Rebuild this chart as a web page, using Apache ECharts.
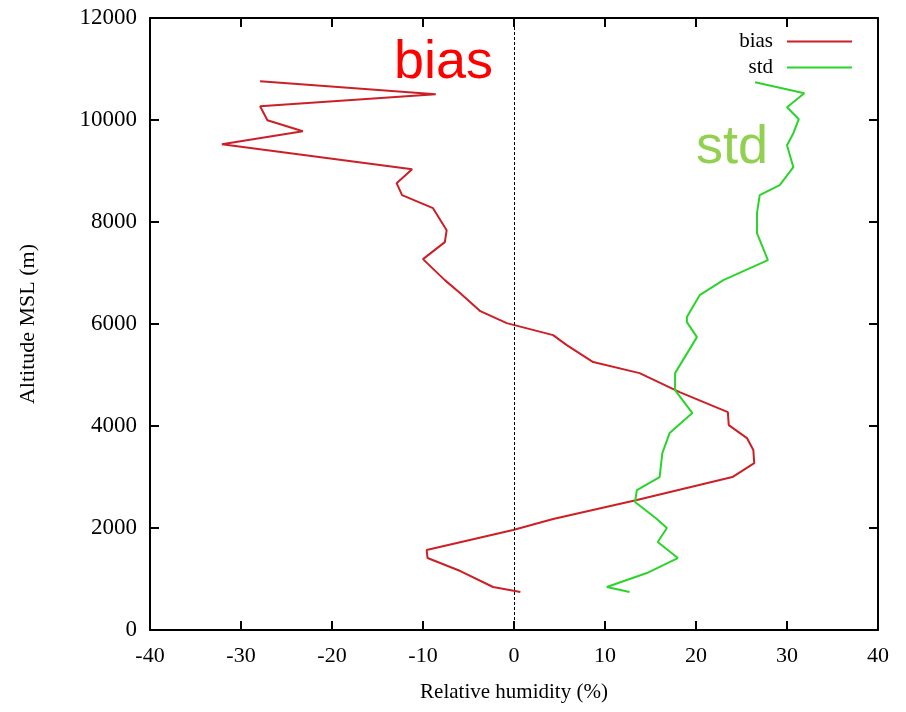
<!DOCTYPE html>
<html>
<head>
<meta charset="utf-8">
<script src="https://cdn.jsdelivr.net/npm/echarts@6/dist/echarts.min.js"></script>
<style>
  html, body { margin: 0; padding: 0; background: #fff; }
  #chart { width: 906px; height: 712px; }
</style>
</head>
<body>
<div id="chart"></div>
<script>
// values: [relative humidity %, altitude m]
var biasRH = [-27.9, -8.6, -27.9, -27.1, -23.2, -32.1, -11.2, -12.9, -12.3, -8.9, -7.4, -7.6, -10.0, -7.6, -5.9, -3.7, -0.8, 4.3, 5.8, 8.7, 13.8, 18.2, 23.5, 23.6, 25.6, 26.3, 26.4, 24.0, 13.5, 4.3, -0.1, -9.6, -9.5, -5.9, -2.3, 0.7];
var biasAlt = [10760, 10506, 10270, 9996, 9780, 9526, 9036, 8761, 8526, 8271, 7840, 7605, 7272, 6860, 6605, 6252, 6017, 5782, 5586, 5253, 5037, 4665, 4273, 4018, 3763, 3528, 3273, 2999, 2548, 2176, 1960, 1568, 1411, 1156, 843, 745];

var stdRH = [26.5, 31.9, 30.0, 31.3, 30.7, 30.0, 30.7, 29.2, 27.0, 26.7, 26.7, 27.9, 23.0, 20.4, 19.0, 19.0, 20.1, 17.7, 17.7, 19.6, 17.1, 16.3, 16.0, 13.5, 13.3, 15.7, 16.8, 15.8, 18.0, 14.6, 10.2, 12.7];
var stdAlt = [10740, 10525, 10251, 10016, 9741, 9506, 9075, 8722, 8526, 8173, 7781, 7252, 6860, 6566, 6135, 6037, 5743, 5037, 4704, 4253, 3861, 3469, 2999, 2744, 2509, 2176, 2000, 1725, 1411, 1117, 843, 745];

var xTicks = [-40, -30, -20, -10, 0, 10, 20, 30, 40];
var yTicks = [0, 2000, 4000, 6000, 8000, 10000, 12000];

function pairs(xs, ys) {
  return xs.map(function (x, i) { return [x, ys[i]]; });
}

var serif = "Liberation Serif";
var frameLine = { show: true, onZero: false, lineStyle: { color: "#000", width: 2 } };
var inTick = { show: true, inside: true, length: 9, lineStyle: { color: "#000", width: 2 } };

var chart = echarts.init(document.getElementById("chart"));
chart.setOption({
  animation: false,
  grid: { left: 150, right: 28, top: 18, bottom: 82 },
  textStyle: { fontFamily: serif },
  legend: {
    orient: "vertical",
    right: 49,
    top: 26,
    align: "right",
    itemWidth: 65,
    itemHeight: 2,
    itemGap: 5,
    icon: "rect",
    textStyle: { fontFamily: serif, fontSize: 21, color: "#000", padding: [0, 9, 0, 0] },
    data: ["bias", "std"]
  },
  xAxis: [
    {
      type: "value",
      min: xTicks[0], max: xTicks[xTicks.length - 1], interval: 10,
      axisLine: frameLine,
      axisTick: inTick,
      splitLine: { show: false },
      axisLabel: { color: "#000", fontSize: 22, fontFamily: serif, margin: 15 },
      name: "Relative humidity (%)",
      nameLocation: "middle",
      nameGap: 52,
      nameTextStyle: { color: "#000", fontSize: 21, fontFamily: serif }
    },
    {
      type: "value", position: "top",
      min: xTicks[0], max: xTicks[xTicks.length - 1], interval: 10,
      axisLine: frameLine,
      axisTick: inTick,
      splitLine: { show: false },
      axisLabel: { show: false }
    }
  ],
  yAxis: [
    {
      type: "value",
      min: yTicks[0], max: yTicks[yTicks.length - 1], interval: 2000,
      axisLine: frameLine,
      axisTick: inTick,
      splitLine: { show: false },
      axisLabel: {
        color: "#000", fontSize: 23, fontFamily: serif, margin: 13,
        formatter: function (v) { return String(v); }
      },
      name: "Altitude MSL (m)",
      nameLocation: "middle",
      nameGap: 111,
      nameTextStyle: { color: "#000", fontSize: 22, fontFamily: serif }
    },
    {
      type: "value", position: "right",
      min: yTicks[0], max: yTicks[yTicks.length - 1], interval: 2000,
      axisLine: frameLine,
      axisTick: inTick,
      splitLine: { show: false },
      axisLabel: { show: false }
    }
  ],
  series: [
    {
      name: "bias",
      type: "line",
      data: pairs(biasRH, biasAlt),
      showSymbol: false,
      color: "#cc1f26",
      lineStyle: { width: 2, color: "#cc1f26" },
      markLine: {
        silent: true,
        symbol: "none",
        label: { show: false },
        lineStyle: { type: [3, 2], color: "#000", width: 1 },
        data: [{ xAxis: 0 }]
      }
    },
    {
      name: "std",
      type: "line",
      data: pairs(stdRH, stdAlt),
      showSymbol: false,
      color: "#2bd42b",
      lineStyle: { width: 2, color: "#2bd42b" }
    }
  ],
  graphic: [
    {
      type: "text", left: 394, top: 36,
      style: { text: "bias", fill: "#ff0000", fontSize: 54, fontFamily: "Liberation Sans" }
    },
    {
      type: "text", left: 696, top: 121,
      style: { text: "std", fill: "#92d050", fontSize: 54, fontFamily: "Liberation Sans" }
    }
  ]
});
</script>
</body>
</html>
